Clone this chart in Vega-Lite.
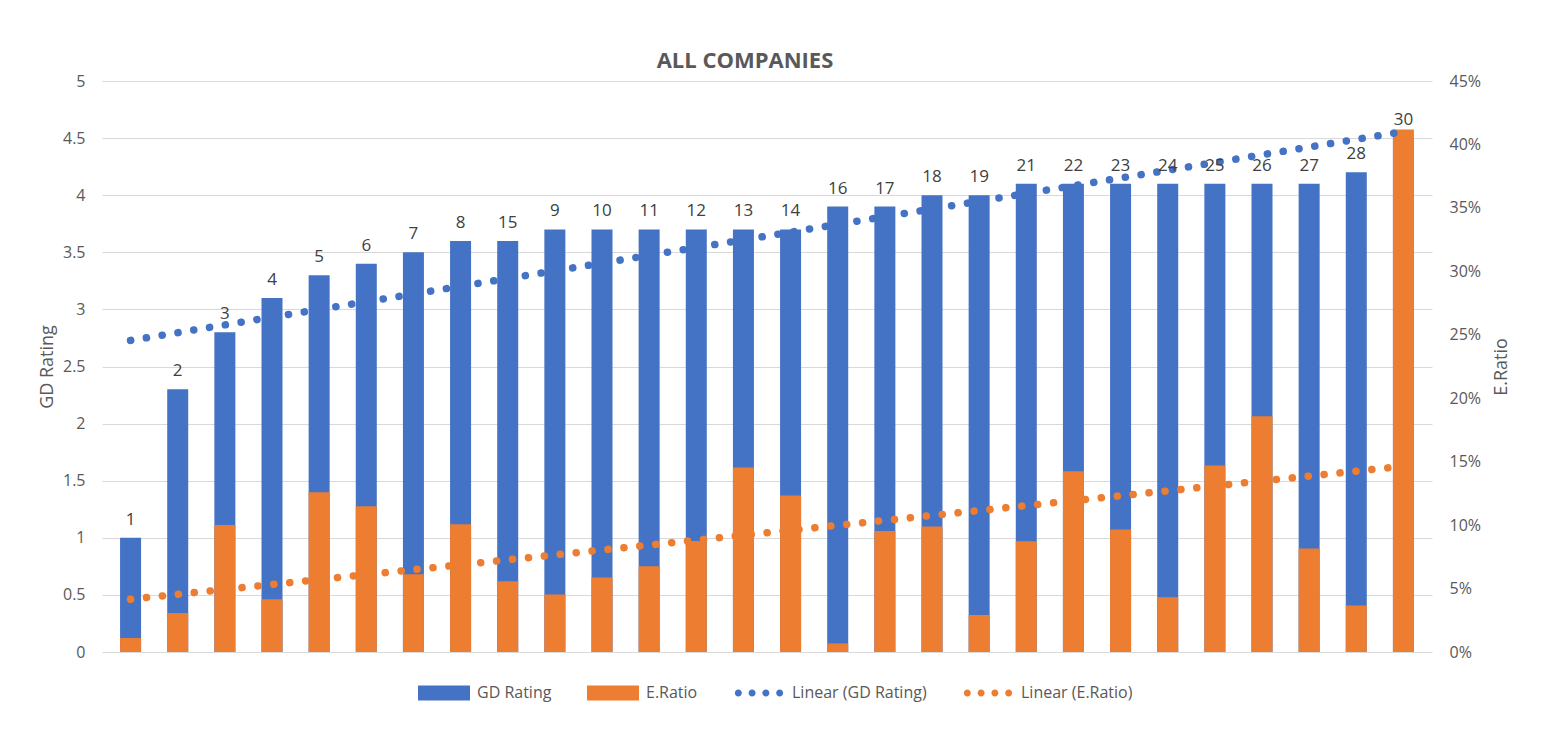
{
  "$schema": "https://vega.github.io/schema/vega-lite/v6.json",
  "width": 1330,
  "height": 571,
  "autosize": {"type": "pad"},
  "padding": {"left": 38, "top": 50, "right": 20, "bottom": 10},
  "background": "white",
  "title": {
    "text": "ALL COMPANIES",
    "font": "Open Sans",
    "fontSize": 22,
    "fontWeight": "bold",
    "color": "#595959",
    "anchor": "middle",
    "dx": -22,
    "offset": 0
  },
  "data": {
    "values": [
      {"idx": 1, "label": "1", "gd": 1.0, "er": 0.011},
      {"idx": 2, "label": "2", "gd": 2.3, "er": 0.0307},
      {"idx": 3, "label": "3", "gd": 2.8, "er": 0.100},
      {"idx": 4, "label": "4", "gd": 3.1, "er": 0.0415},
      {"idx": 5, "label": "5", "gd": 3.3, "er": 0.1258},
      {"idx": 6, "label": "6", "gd": 3.4, "er": 0.1148},
      {"idx": 7, "label": "7", "gd": 3.5, "er": 0.0612},
      {"idx": 8, "label": "8", "gd": 3.6, "er": 0.1006},
      {"idx": 9, "label": "15", "gd": 3.6, "er": 0.0557},
      {"idx": 10, "label": "9", "gd": 3.7, "er": 0.0454},
      {"idx": 11, "label": "10", "gd": 3.7, "er": 0.0588},
      {"idx": 12, "label": "11", "gd": 3.7, "er": 0.0675},
      {"idx": 13, "label": "12", "gd": 3.7, "er": 0.0875},
      {"idx": 14, "label": "13", "gd": 3.7, "er": 0.1455},
      {"idx": 15, "label": "14", "gd": 3.7, "er": 0.1234},
      {"idx": 16, "label": "16", "gd": 3.9, "er": 0.0068},
      {"idx": 17, "label": "17", "gd": 3.9, "er": 0.0953},
      {"idx": 18, "label": "18", "gd": 4.0, "er": 0.0990},
      {"idx": 19, "label": "19", "gd": 4.0, "er": 0.0292},
      {"idx": 20, "label": "21", "gd": 4.1, "er": 0.0872},
      {"idx": 21, "label": "22", "gd": 4.1, "er": 0.1424},
      {"idx": 22, "label": "23", "gd": 4.1, "er": 0.0966},
      {"idx": 23, "label": "24", "gd": 4.1, "er": 0.0431},
      {"idx": 24, "label": "25", "gd": 4.1, "er": 0.1470},
      {"idx": 25, "label": "26", "gd": 4.1, "er": 0.1857},
      {"idx": 26, "label": "27", "gd": 4.1, "er": 0.0816},
      {"idx": 27, "label": "28", "gd": 4.2, "er": 0.0366},
      {"idx": 28, "label": "30", "gd": 4.5, "er": 0.4117}
    ]
  },
  "encoding": {
    "x": {
      "field": "idx",
      "type": "quantitative",
      "scale": {"domain": [0.5, 28.5], "nice": false, "zero": false},
      "axis": null
    }
  },
  "layer": [
    {
      "mark": {"type": "bar", "width": 21},
      "encoding": {
        "y": {
          "field": "gd",
          "type": "quantitative",
          "scale": {"domain": [0, 5], "nice": false},
          "axis": {
            "orient": "left",
            "title": "GD Rating",
            "values": [0, 0.5, 1, 1.5, 2, 2.5, 3, 3.5, 4, 4.5, 5],
            "format": "~g",
            "grid": true,
            "gridColor": "#d9d9d9",
            "gridWidth": 1,
            "domain": false,
            "ticks": false,
            "labelPadding": 17,
            "labelFont": "Open Sans",
            "labelFontSize": 16,
            "labelColor": "#595959",
            "titleFont": "Open Sans",
            "titleFontSize": 18,
            "titleFontWeight": "normal",
            "titleColor": "#595959",
            "titlePadding": 6
          }
        },
        "color": {
          "datum": "GD Rating",
          "type": "nominal",
          "scale": {
            "domain": ["GD Rating", "E.Ratio", "Linear (GD Rating)", "Linear (E.Ratio)"],
            "range": ["#4472C4", "#ED7D31", "#4472C4", "#ED7D31"]
          },
          "legend": {
            "orient": "none",
            "legendX": 316,
            "legendY": 586,
            "direction": "horizontal",
            "title": null,
            "symbolSize": 2704,
            "labelFont": "Open Sans",
            "labelFontSize": 16,
            "labelColor": "#595959",
            "labelOffset": 7,
            "columnPadding": 35,
            "labelLimit": 300,
            "encode": {
              "symbols": {
                "update": {
                  "shape": {"signal": "indexof(datum.value, 'Linear') === 0 ? 'M-0.66,0A0.135,0.135,0,1,1,-0.93,0A0.135,0.135,0,1,1,-0.66,0ZM-0.13,0A0.135,0.135,0,1,1,-0.4,0A0.135,0.135,0,1,1,-0.13,0ZM0.4,0A0.135,0.135,0,1,1,0.13,0A0.135,0.135,0,1,1,0.4,0ZM0.93,0A0.135,0.135,0,1,1,0.66,0A0.135,0.135,0,1,1,0.93,0Z' : 'M-1,-0.29L1,-0.29L1,0.29L-1,0.29Z'"},
                  "fill": {"scale": "color", "field": "value"},
                  "stroke": {"value": "transparent"},
                  "strokeWidth": {"value": 0},
                  "opacity": {"value": 1},
                  "fillOpacity": {"value": 1}
                }
              }
            }
          }
        }
      }
    },
    {
      "mark": {"type": "bar", "width": 21},
      "encoding": {
        "y": {
          "field": "er",
          "type": "quantitative",
          "scale": {"domain": [0, 0.45], "nice": false},
          "axis": {
            "orient": "right",
            "title": "E.Ratio",
            "values": [0, 0.05, 0.1, 0.15, 0.2, 0.25, 0.3, 0.35, 0.4, 0.45],
            "format": ".0%",
            "grid": false,
            "domain": false,
            "ticks": false,
            "labelPadding": 17,
            "labelFont": "Open Sans",
            "labelFontSize": 16,
            "labelColor": "#595959",
            "titleFont": "Open Sans",
            "titleFontSize": 18,
            "titleFontWeight": "normal",
            "titleColor": "#595959",
            "titleAngle": 270,
            "titleBaseline": "top",
            "titlePadding": 12
          }
        },
        "color": {"datum": "E.Ratio", "type": "nominal"}
      }
    },
    {
      "transform": [{"regression": "gd", "on": "idx"}],
      "mark": {"type": "line", "strokeWidth": 7.5, "strokeDash": [0.1, 15.9], "strokeCap": "round"},
      "encoding": {
        "y": {
          "field": "gd",
          "type": "quantitative",
          "scale": {"domain": [0, 5], "nice": false},
          "axis": null
        },
        "color": {"datum": "Linear (GD Rating)", "type": "nominal"}
      }
    },
    {
      "transform": [{"regression": "er", "on": "idx"}],
      "mark": {"type": "line", "strokeWidth": 7.5, "strokeDash": [0.1, 15.9], "strokeCap": "round"},
      "encoding": {
        "y": {
          "field": "er",
          "type": "quantitative",
          "scale": {"domain": [0, 0.45], "nice": false},
          "axis": null
        },
        "color": {"datum": "Linear (E.Ratio)", "type": "nominal"}
      }
    },
    {
      "mark": {"type": "text", "font": "Open Sans", "fontSize": 17, "color": "#404040", "baseline": "alphabetic", "dy": -13},
      "encoding": {
        "y": {
          "field": "gd",
          "type": "quantitative",
          "scale": {"domain": [0, 5], "nice": false},
          "axis": null
        },
        "text": {"field": "label", "type": "nominal"}
      }
    }
  ],
  "resolve": {"scale": {"y": "independent"}},
  "config": {
    "font": "Open Sans",
    "view": {"stroke": null}
  }
}
